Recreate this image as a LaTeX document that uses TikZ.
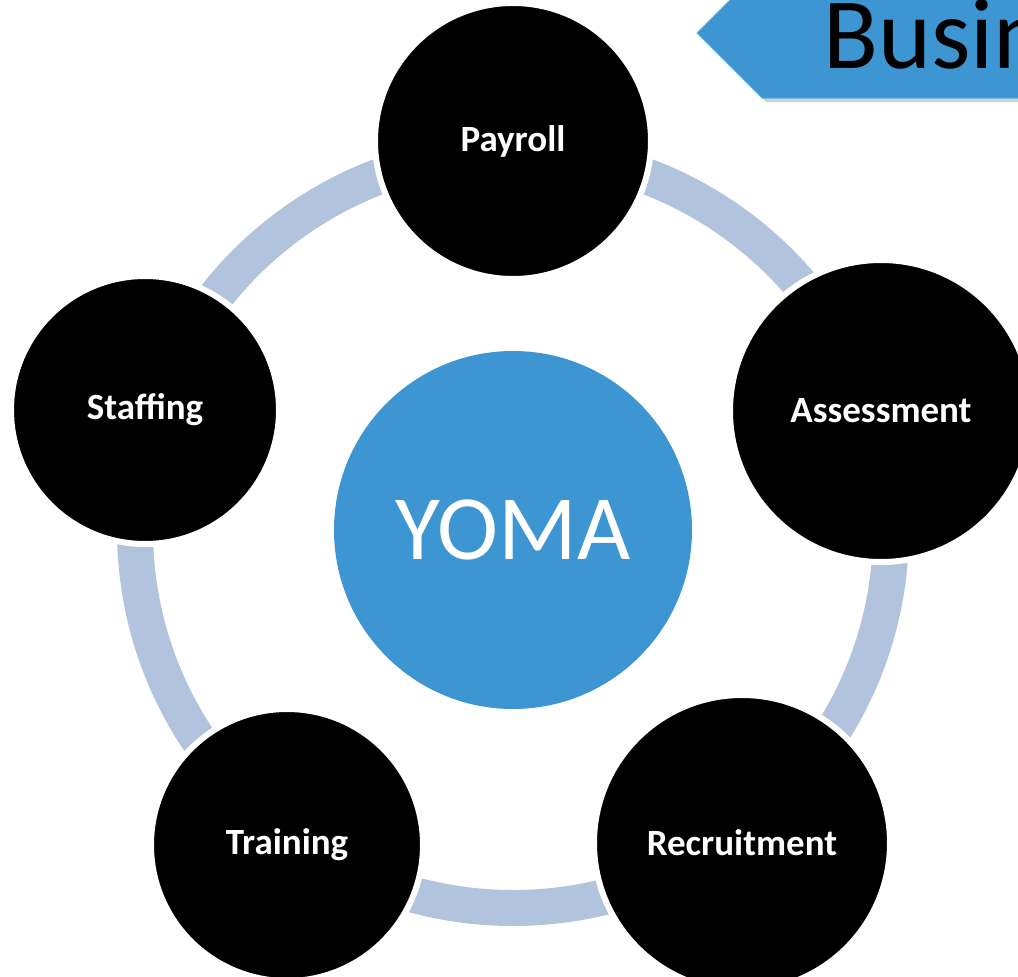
\documentclass[tikz,border=0pt]{standalone}
\usepackage{fontspec}
\setmainfont{Carlito}
\usetikzlibrary{positioning}

\definecolor{yomablue}{RGB}{61,149,210}
\definecolor{ringblue}{RGB}{178,195,222}
\definecolor{tagedge}{RGB}{88,178,218}

\begin{document}
\begin{tikzpicture}[x=1pt, y=-1pt,
    task/.style={circle, fill=black, draw=white, line width=6pt, text=white,
        font=\fontsize{37}{42}\selectfont\bfseries, inner sep=0pt},
    hubnode/.style={circle, fill=yomablue, text=white,
        font=\fontsize{92}{100}\selectfont, minimum size=358pt, inner sep=0pt}]
    \useasboundingbox (0,0) rectangle (1018,977);
    \clip (0,0) rectangle (1018,977);

    % Title tag in the top right corner
    \fill[black, opacity=0.18] (701,37) -- (766,102) -- (1030,102) -- (1030,-40) -- (766,-28) -- cycle;
    \draw[tagedge, fill=yomablue, line width=1pt] (697,33) -- (762,98) -- (1030,98) -- (1030,-40) -- (762,-32) -- cycle;
    \node[anchor=base west, font=\fontsize{101}{110}\selectfont, inner sep=0pt] (title) at (823,68) {Busin};

    % Ring behind the circles
    \coordinate (hub) at (513,530);
    \draw[ringblue, line width=36pt] (hub) circle[radius=378pt];

    \node[hubnode] (yoma) at (hub) {YOMA};

    % The five outer circles
    \node[task, minimum size=276pt] (payroll) at (513,141) {Payroll};
    \node[task, minimum size=302pt] (assessment) at (881,411) {Assessment};
    \node[task, minimum size=296pt] (recruitment) at (742,843) {Recruitment};
    \node[task, minimum size=272pt] (training) at (287,845) {Training};
    \node[task, minimum size=268pt] (staffing) at (145,410) {Staffing};
\end{tikzpicture}
\end{document}
